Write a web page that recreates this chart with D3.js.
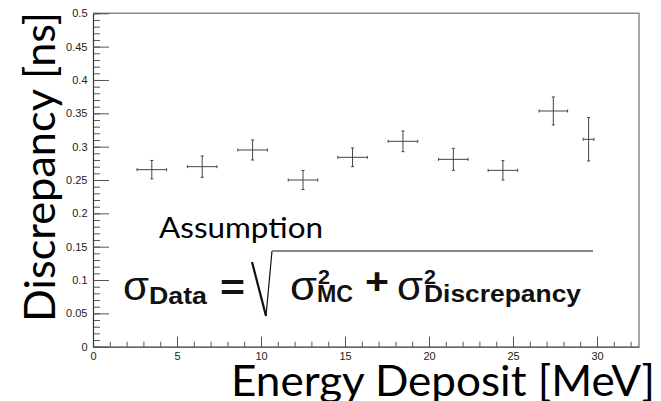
<!DOCTYPE html>
<html>
<head>
<meta charset="utf-8">
<script src="https://cdn.jsdelivr.net/npm/d3@7"></script>
<style>
  body { margin: 0; background: #fff; }
  svg { display: block; }
</style>
</head>
<body>
<div id="chart"></div>
<script>
// energy bin centres [MeV] and half widths
const energia = [3.5, 6.5, 9.5, 12.5, 15.45, 18.45, 21.45, 24.4, 27.4, 29.5];
const energiaErr = [0.88, 0.88, 0.88, 0.88, 0.88, 0.88, 0.88, 0.88, 0.85, 0.32];
// discrepancy [ns] and errors
const discrepancia = [0.2655, 0.27, 0.295, 0.25, 0.284, 0.308, 0.281, 0.2645, 0.3535, 0.311];
const discrepanciaErr = [0.0138, 0.016, 0.015, 0.0143, 0.014, 0.0155, 0.0165, 0.0145, 0.021, 0.0325];

const xTicks = [0, 5, 10, 15, 20, 25, 30];
const yTicks = [0, 0.05, 0.1, 0.15, 0.2, 0.25, 0.3, 0.35, 0.4, 0.45, 0.5];

const width = 661, height = 401;
const margins = { top: 13.3, right: 22, bottom: 54.3, left: 93 };

const svg = d3.select("#chart").append("svg")
  .attr("width", width)
  .attr("height", height);

// escalas
const xScale = d3.scaleLinear()
  .domain([0, 32.5])
  .range([margins.left, width - margins.right]);

const yScale = d3.scaleLinear()
  .domain([0, 0.5])
  .range([height - margins.bottom, margins.top]);

const labelFont = "'Liberation Sans', Arial, Helvetica, sans-serif";

// moldura (topo e direita)
svg.append("path")
  .attr("d", `M${xScale(0)},${yScale(0.5)}H${xScale(32.5)}V${yScale(0)}`)
  .attr("fill", "none")
  .attr("stroke", "#8a8a8a")
  .attr("stroke-width", 1.5);

// eixo x: menores
svg.append("g")
  .attr("transform", `translate(0, ${yScale(0)})`)
  .call(d3.axisBottom(xScale).tickValues(d3.range(0, 33, 1)).tickSize(-5).tickSizeOuter(0).tickFormat(() => ""))
  .call(g => g.select(".domain").remove())
  .call(g => g.selectAll("line").attr("stroke", "#555"));

// eixo x: maiores
svg.append("g")
  .attr("transform", `translate(0, ${yScale(0)})`)
  .call(d3.axisBottom(xScale).tickValues(xTicks).tickSize(-10).tickSizeOuter(0).tickPadding(5.5).tickFormat(d3.format("d")))
  .call(g => g.select(".domain").attr("stroke", "#333").attr("stroke-width", 1.2))
  .call(g => g.selectAll("line").attr("stroke", "#555"))
  .call(g => g.selectAll("text").attr("font-family", labelFont).attr("font-size", 11).attr("fill", "#222"));

// eixo y: menores
svg.append("g")
  .attr("transform", `translate(${xScale(0)}, 0)`)
  .call(d3.axisLeft(yScale).tickValues(d3.range(0, 0.501, 0.01)).tickSize(-7).tickSizeOuter(0).tickFormat(() => ""))
  .call(g => g.select(".domain").remove())
  .call(g => g.selectAll("line").attr("stroke", "#555"));

// eixo y: maiores
svg.append("g")
  .attr("transform", `translate(${xScale(0)}, 0)`)
  .call(d3.axisLeft(yScale).tickValues(yTicks).tickSize(-16).tickSizeOuter(0).tickPadding(5.5).tickFormat(d => d3.format("")(+d.toFixed(2))))
  .call(g => g.select(".domain").attr("stroke", "#333").attr("stroke-width", 1.2))
  .call(g => g.selectAll("line").attr("stroke", "#555"))
  .call(g => g.selectAll("text").attr("font-family", labelFont).attr("font-size", 11).attr("fill", "#222"));

// pontos com barras de erro
const pontos = energia.map((e, i) => ({
  x: e, ex: energiaErr[i], y: discrepancia[i], ey: discrepanciaErr[i]
}));

const grupo = svg.append("g")
  .attr("stroke", "#444")
  .attr("stroke-width", 1)
  .attr("fill", "none");

const cap = 1.5;
pontos.forEach(p => {
  const cx = xScale(p.x), cy = yScale(p.y);
  const x0 = xScale(p.x - p.ex), x1 = xScale(p.x + p.ex);
  const y0 = yScale(p.y - p.ey), y1 = yScale(p.y + p.ey);
  grupo.append("path").attr("d",
    `M${x0},${cy}H${x1}M${cx},${y0}V${y1}` +
    `M${x0},${cy - cap}V${cy + cap}M${x1},${cy - cap}V${cy + cap}` +
    `M${cx - cap},${y0}H${cx + cap}M${cx - cap},${y1}H${cx + cap}`);
});

// títulos dos eixos
const tituloFont = "Lato, 'Open Sans', sans-serif";

svg.append("text")
  .attr("transform", "translate(55, 322) rotate(-90)")
  .attr("font-family", tituloFont)
  .attr("font-size", 42)
  .attr("textLength", 310)
  .attr("lengthAdjust", "spacingAndGlyphs")
  .attr("fill", "#000")
  .text("Discrepancy [ns]");

svg.append("text")
  .attr("x", 231)
  .attr("y", 396)
  .attr("font-family", tituloFont)
  .attr("font-size", 42)
  .attr("textLength", 424)
  .attr("lengthAdjust", "spacingAndGlyphs")
  .attr("fill", "#000")
  .text("Energy Deposit [MeV]");

// fórmula
svg.append("text")
  .attr("x", 159)
  .attr("y", 238)
  .attr("font-family", tituloFont)
  .attr("font-size", 28)
  .attr("textLength", 164)
  .attr("lengthAdjust", "spacingAndGlyphs")
  .attr("fill", "#000")
  .text("Assumption");

const formula = svg.append("g")
  .attr("font-family", labelFont)
  .attr("fill", "#111");

function txt(s, x, y, size, bold, len) {
  const t = formula.append("text")
    .attr("x", x).attr("y", y)
    .attr("font-size", size)
    .attr("font-weight", bold ? "bold" : "normal")
    .text(s);
  if (len) t.attr("textLength", len).attr("lengthAdjust", "spacingAndGlyphs");
  return t;
}

txt("σ", 123, 300, 40, false, 26);
txt("Data", 149, 304, 24, true, 58);
txt("=", 220, 300, 36, true, 25);
txt("σ", 290, 300, 40, false, 27);
txt("2", 318, 284, 20, true, 12);
txt("MC", 317, 302, 24, true, 36);
txt("+", 365, 294, 36, true, 24);
txt("σ", 397, 300, 40, false, 26);
txt("2", 424, 284, 20, true, 12);
txt("Discrepancy", 424, 302, 24, true, 157);

// raiz quadrada
svg.append("path")
  .attr("d", "M252,262L266,316")
  .attr("stroke", "#111")
  .attr("stroke-width", 2.2)
  .attr("fill", "none");
svg.append("path")
  .attr("d", "M266,316L272,251")
  .attr("stroke", "#111")
  .attr("stroke-width", 1.2)
  .attr("fill", "none");
svg.append("path")
  .attr("d", "M272,251H593")
  .attr("stroke", "#888")
  .attr("stroke-width", 2)
  .attr("fill", "none");
</script>
</body>
</html>
